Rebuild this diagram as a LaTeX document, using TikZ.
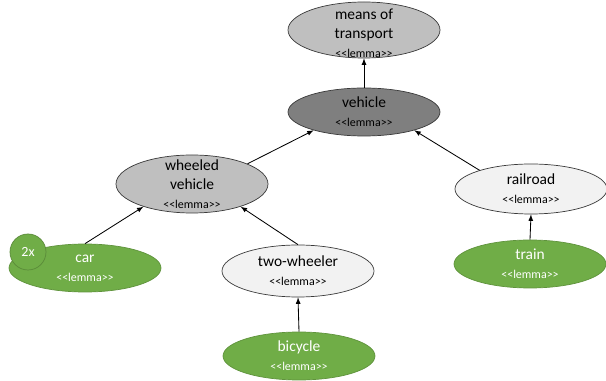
\documentclass[tikz,border=0pt]{standalone}
\usepackage{fontspec}
\setmainfont{Carlito}
\usetikzlibrary{arrows,shapes}
\definecolor{lightgrey}{HTML}{BFBFBF}
\definecolor{darkgrey}{HTML}{7F7F7F}
\definecolor{palegrey}{HTML}{F2F2F2}
\definecolor{leafgreen}{HTML}{70AD47}
\definecolor{edgegrey}{HTML}{3A3A3A}
\newcommand{\lemmatag}{{\fontsize{8.5}{10}\selectfont
    \textless\kern0pt\textless lemma\textgreater\kern0pt\textgreater}}

\begin{document}
\begin{tikzpicture}[
    lemma/.style={ellipse, draw=edgegrey, line width=0.5pt, minimum width=3.8cm,
        minimum height=1.2cm, inner sep=0pt},
    lemmatext/.style={align=center, font=\fontsize{11}{13.5}\selectfont},
    leaf/.style={lemma, fill=leafgreen, draw=leafgreen!85!black},
    leaftext/.style={lemmatext, text=white}]
\useasboundingbox (0,0) rectangle (15.15,9.525);
%the upper part of the hierarchy
    \node[lemma, fill=lightgrey, minimum height=1.4cm,
        label={[lemmatext, yshift=-2pt]center:{means of\\transport\\\lemmatag}}] (means) at (9.1,8.775) {};
    \node[lemma, fill=darkgrey,
        label={[lemmatext]center:{vehicle\\\lemmatag}}] (vehicle) at (9.1,6.725) {};
    \node[lemma, fill=lightgrey, minimum height=1.45cm,
        label={[lemmatext]center:{wheeled\\vehicle\\\lemmatag}}] (wheeled) at (4.8,4.925) {};
    \node[lemma, fill=palegrey, minimum height=1.3cm,
        label={[lemmatext]center:{two-wheeler\\\lemmatag}}] (twowheeler) at (7.45,2.75) {};
    \node[lemma, fill=palegrey, minimum height=1.25cm,
        label={[lemmatext]center:{railroad\\\lemmatag}}] (railroad) at (13.275,4.8) {};

%the leaves
    \node[leaf, label={[leaftext]center:{car\\\lemmatag}}] (car) at (2.125,2.825) {};
    \node[leaf, label={[leaftext]center:{bicycle\\\lemmatag}}] (bicycle) at (7.475,0.625) {};
    \node[leaf, label={[leaftext]center:{train\\\lemmatag}}] (train) at (13.25,2.925) {};
    \node[circle, fill=leafgreen, draw=leafgreen!80!black, line width=0.5pt,
        minimum size=0.9cm, inner sep=0pt, text=white,
        font=\fontsize{10}{12}\selectfont] (twice) at (0.7,3.225) {2x};

%the arrows
    \begin{scope}[every path/.style={-latex, line width=0.6pt}]
       \draw (vehicle.north) -- (means.south);
       \draw (wheeled.20) -- (vehicle.200);
       \draw (railroad.160) -- (vehicle.340);
       \draw (car.north) -- (wheeled.205);
       \draw (twowheeler.north) -- (wheeled.335);
       \draw (bicycle.north) -- (twowheeler.south);
       \draw (train.north) -- (railroad.south);
    \end{scope}
\end{tikzpicture}
\end{document}
